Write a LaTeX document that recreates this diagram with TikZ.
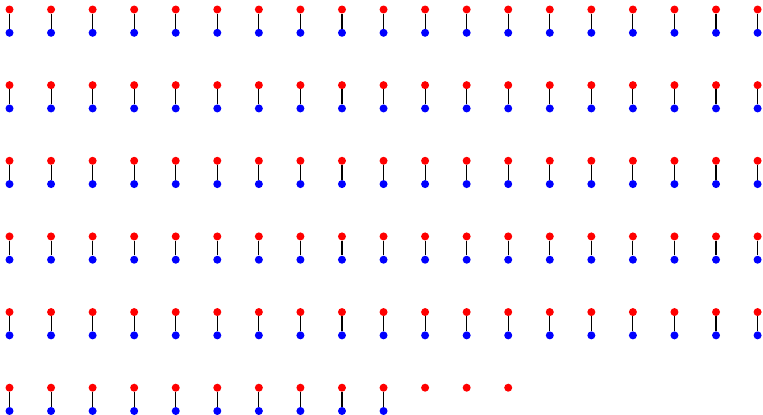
\documentclass[tikz,border=0pt]{standalone}
\begin{document}
\begin{tikzpicture}[x=0.75pt,y=-0.75pt,
  reddot/.style={circle,fill=red,inner sep=0pt,minimum size=6pt},
  bluedot/.style={circle,fill=blue,inner sep=0pt,minimum size=6pt},
  link/.style={draw=black,line width=0.8pt}]
\useasboundingbox (0,0) rectangle (763,414);
\foreach \r in {0,...,5}{
  \pgfmathtruncatemacro{\ncols}{\r<5 ? 18 : 12}
  \pgfmathtruncatemacro{\nblue}{\r<5 ? 18 : 9}
  \foreach \c in {0,...,\ncols}{
    \node[reddot] (r-\r-\c) at ({9.5+41.56*\c},{9.5+75.64*\r}) {};
  }
  \foreach \c in {0,...,\nblue}{
    \node[bluedot] (b-\r-\c) at ({9.5+41.56*\c},{32.8+75.64*\r}) {};
    \draw[link] (r-\r-\c) -- (b-\r-\c);
  }
}
\end{tikzpicture}
\end{document}
